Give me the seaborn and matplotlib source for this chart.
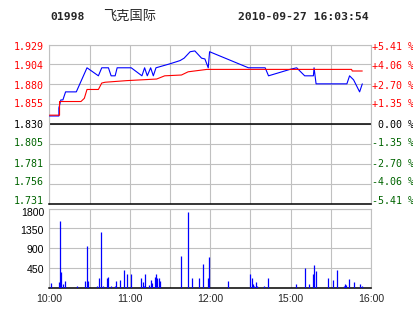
import matplotlib
matplotlib.use("Agg")
import matplotlib.pyplot as plt
import matplotlib.transforms as mtransforms
import seaborn as sns

# ---- data ----
prev_close = 1.830
price_ticks = [1.731, 1.75575, 1.7805, 1.80525, 1.830, 1.85475, 1.8795, 1.90425, 1.929]
price_labels = ["1.731", "1.756", "1.781", "1.805", "1.830", "1.855", "1.880", "1.904", "1.929"]
pct_labels = ["-5.41 %", "-4.06 %", "-2.70 %", "-1.35 %", "0.00 %", "+1.35 %", "+2.70 %", "+4.06 %", "+5.41 %"]

time_ticks = [0, 30, 60, 90, 120, 150, 180, 210, 240]
time_labels = ["10:00", "", "11:00", "", "12:00", "", "15:00", "", "16:00"]

vol_ticks = [0, 450, 900, 1350, 1800]
vol_labels = ["", "450", "900", "1350", "1800"]

# minutes since 10:00 (trading minutes) and price, blue = last price
blue_t = [0, 7, 7, 8.5, 10, 12, 20, 28, 36.5, 39, 44, 46, 49, 50.5, 61, 69, 71, 73, 75.5,
          77.5, 79.5, 90, 97.5, 100.5, 105, 108.5, 113.5, 116, 118.5, 119.5, 148.5, 161,
          163.5, 179.5, 184.5, 190.5, 197, 197.5, 199, 222, 224, 227, 231.5, 233.5]
blue_p = [1.84, 1.84, 1.85, 1.86, 1.86, 1.87, 1.87, 1.90, 1.89, 1.90, 1.90, 1.89, 1.89, 1.90,
          1.90, 1.89, 1.90, 1.89, 1.90, 1.89, 1.90, 1.905, 1.909, 1.912, 1.92, 1.921, 1.912,
          1.911, 1.90, 1.92, 1.90, 1.90, 1.89, 1.898, 1.90, 1.89, 1.89, 1.90, 1.88, 1.88,
          1.89, 1.885, 1.87, 1.88]
# red = average price
red_t = [0, 7.5, 7.5, 23.5, 26, 28, 36.5, 39, 41.5, 57.5, 80, 86, 98.5, 103.5, 117.5,
         225.5, 226, 233.5]
red_p = [1.841, 1.841, 1.858, 1.858, 1.862, 1.873, 1.873, 1.881, 1.882, 1.884, 1.886,
         1.890, 1.891, 1.895, 1.898, 1.898, 1.896, 1.896]

vol_t = [1.1, 7.3, 8.1, 8.8, 10.3, 11.8, 20.3, 26.7, 28.2, 29.0, 35.7, 37.2, 38.7, 40.1,
         43.1, 43.9, 46.1, 49.1, 49.9, 52.8, 55.8, 58.1, 61.0, 68.5, 70.0, 70.7, 71.5, 74.5,
         75.9, 76.7, 79.0, 79.7, 80.4, 81.9, 82.7, 98.4, 103.6, 106.6, 111.8, 114.8, 118.5,
         119.3, 133.4, 149.9, 151.3, 152.1, 152.8, 154.3, 155.1, 160.3, 163.3, 184.2, 190.9,
         193.9, 196.9, 197.6, 199.1, 208.1, 211.8, 214.8, 220.0, 220.7, 221.5, 223.7, 227.5,
         231.9, 233.4]
vol_v = [120, 140, 1514, 355, 84, 158, 45, 158, 957, 158, 45, 233, 1273, 45,
         233, 256, 45, 45, 158, 180, 407, 316, 316, 233, 128, 45, 316, 68,
         180, 105, 256, 316, 233, 233, 158, 723, 1720, 233, 233, 542, 233,
         701, 158, 316, 233, 84, 45, 142, 45, 45, 233, 90, 460,
         90, 316, 520, 384, 233, 180, 407, 45, 90, 68, 203, 128,
         90, 45]

# ---- style ----
sns.set_style("white")
GRID = "#c0c0c0"
RED = "#ff0000"
GREEN = "#006400"
BLUE = "#0000ff"
mono = "DejaVu Sans Mono"
sans = "Liberation Sans"

# small vertical nudges (pixels, positive = down) of the axis labels, as in the original
price_label_dy = [-2.7, -2.0, 0.0, -1.0, 0.6, 0.0, 1.3, 1.5, 2.5]
vol_label_dy = [0, 1.7, 1.5, 2.7, 4.5]

fig = plt.figure(figsize=(4.14, 3.14), dpi=100)
W, H = 414, 314
L, R = 49.5 / W, 371 / W
ax = fig.add_axes([L, 1 - 203.5 / H, R - L, (203.5 - 44.5) / H])
axv = fig.add_axes([L, 1 - 288 / H, R - L, (288 - 208.5) / H])


def level_color(v):
    if abs(v - prev_close) < 1e-9:
        return "black"
    return RED if v > prev_close else GREEN


# price panel
for y in price_ticks:
    ax.axhline(y, color=GRID, lw=0.8, zorder=0)
for x in time_ticks:
    ax.axvline(x, color=GRID, lw=0.8, zorder=0)
ax.axhline(prev_close, color="black", lw=1.1, zorder=1)

sns.lineplot(x=blue_t, y=blue_p, ax=ax, color=BLUE, lw=0.8, sort=False, estimator=None, zorder=3)
sns.lineplot(x=red_t, y=red_p, ax=ax, color=RED, lw=0.8, sort=False, estimator=None, zorder=4)

ax.set_xlim(0, 240)
ax.set_ylim(1.731, 1.929)
ax.set_xticks([])
ax.set_yticks([])
for s in ["top", "left", "right"]:
    ax.spines[s].set_color(GRID)
    ax.spines[s].set_linewidth(0.8)
ax.spines["bottom"].set_color("black")
ax.spines["bottom"].set_linewidth(1.1)
ax.set_xlabel("")
ax.set_ylabel("")

trans = ax.get_yaxis_transform()
for v, t, pl, dy in zip(price_ticks, pct_labels, price_labels, price_label_dy):
    c = level_color(v)
    tr_l = mtransforms.offset_copy(trans, fig=fig, x=-5.5, y=-dy, units="dots")
    ax.text(0, v, pl, transform=tr_l, ha="right", va="center", family=mono,
            fontsize=7.2, color=c, clip_on=False)
    xo = 1.5 if t[0] in "+-" else 7.5
    tr_r = mtransforms.offset_copy(trans, fig=fig, x=xo, y=-dy, units="dots")
    ax.text(1, v, t, transform=tr_r, ha="left", va="center", family=mono,
            fontsize=7.2, color=c, clip_on=False)

# volume panel
for y in vol_ticks:
    axv.axhline(y, color=GRID, lw=0.8, zorder=0)
for x in time_ticks:
    axv.axvline(x, color=GRID, lw=0.8, zorder=0)
axv.vlines(vol_t, 0, vol_v, color=BLUE, lw=0.9, zorder=3)
axv.set_xlim(0, 240)
axv.set_ylim(0, 1800)
axv.set_yticks([])
transv = axv.get_yaxis_transform()
for v, t, dy in zip(vol_ticks, vol_labels, vol_label_dy):
    if t:
        tr = mtransforms.offset_copy(transv, fig=fig, x=-5.5, y=-dy, units="dots")
        axv.text(0, v, t, transform=tr, ha="right", va="center", family=sans,
                 fontsize=7.6, color="black", clip_on=False)
axv.set_xticks(time_ticks)
axv.set_xticklabels(time_labels, family=sans, fontsize=7.6)
axv.tick_params(axis="both", length=0)
axv.tick_params(axis="x", pad=4)
for s in ["top", "left", "right"]:
    axv.spines[s].set_color(GRID)
    axv.spines[s].set_linewidth(0.8)
axv.spines["bottom"].set_color("black")
axv.spines["bottom"].set_linewidth(1.1)

# header
fig.text(50 / W, 1 - 17 / H, "01998", family=mono, weight="bold", fontsize=8.2,
         ha="left", va="center")
fig.text(103 / W, 1 - 16 / H, "飞克国际", family=["Noto Sans CJK SC", "DejaVu Sans"],
         fontsize=9.5, ha="left", va="center")
fig.text(238 / W, 1 - 17 / H, "2010-09-27 16:03:54", family=mono, weight="bold",
         fontsize=8.2, ha="left", va="center")

fig.savefig("out.png", dpi=100)
